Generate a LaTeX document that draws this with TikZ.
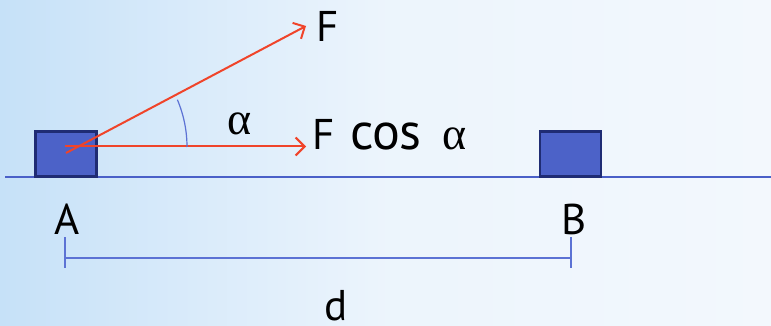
\documentclass[tikz,border=0pt]{standalone}
\usepackage{fontspec}
\setmainfont{PT Sans}
\newfontfamily\grk{Liberation Serif}
\usetikzlibrary{arrows.meta}
\definecolor{bgL}{HTML}{C6E1F8}
\definecolor{bgR}{HTML}{F3F8FD}
\definecolor{boxfill}{HTML}{4C62C8}
\definecolor{boxline}{HTML}{1F2C74}
\definecolor{lineblue}{HTML}{4A60C8}
\definecolor{dimblue}{HTML}{5C72D4}
\definecolor{fred}{HTML}{F0442A}
\tikzset{
  blockbox/.style={draw=boxline, fill=boxfill, line width=2.5pt, minimum width=61pt, minimum height=45pt, inner sep=0pt},
  force/.style={draw=fred, line width=2pt, -{Straight Barb[length=9pt,width=18pt,line width=2pt]}},
  lbl/.style={font=\fontsize{43}{45}\selectfont, inner sep=0pt, text=black},
  glbl/.style={font=\grk\fontsize{46}{48}\selectfont, inner sep=0pt, text=black},
}
\begin{document}
\begin{tikzpicture}[x=1pt,y=-1pt]
\useasboundingbox (0,0) rectangle (771,326);
\shade[left color=bgL, right color=bgR, middle color=bgR!85!bgL] (0,0) rectangle (771,326);
% ground
\coordinate (g1) at (5,177);
\coordinate (g2) at (771,177);
\draw[lineblue, line width=1.8pt] (g1) -- (g2);
% blocks
\node[blockbox] (A) at (66,154) {};
\node[blockbox] (B) at (570.5,154) {};
% forces
\coordinate (o1) at (66,153);
\coordinate (o2) at (65,146.5);
\coordinate (fend) at (306,26);
\coordinate (hend) at (306,146.5);
\draw[force] (o1) -- (fend);
\draw[force] (o2) -- (hend);
% angle arc
\draw[dimblue, line width=1.2pt] (187,147) arc[start angle=0, end angle=-23, radius=121];
% labels
\node[lbl, anchor=south west] (lF) at (316,42) {F};
\node[lbl, anchor=south west] (lFc) at (312,150) {F};
\node[anchor=south west, inner sep=0pt, font=\fontsize{52}{54}\selectfont] (lcos) at (350,150) {c\kern-1pt o\kern-1pt s};
\node[glbl, anchor=south west] (lal) at (442,150) {α};
\node[glbl, anchor=south west] (la) at (227,135) {α};
\node[lbl, anchor=south west] (lA) at (54,235) {A};
\node[lbl, anchor=south west] (lB) at (561,235) {B};
\node[lbl, anchor=south] (ld) at (336,321) {d};
% dimension
\coordinate (d1) at (65,258);
\coordinate (d2) at (571,258);
\coordinate (t1a) at (65,237);
\coordinate (t1b) at (65,268);
\coordinate (t2a) at (571,237);
\coordinate (t2b) at (571,268);
\draw[dimblue, line width=1.6pt] (d1) -- (d2);
\draw[dimblue, line width=1.6pt] (t1a) -- (t1b);
\draw[dimblue, line width=1.6pt] (t2a) -- (t2b);
\end{tikzpicture}
\end{document}
